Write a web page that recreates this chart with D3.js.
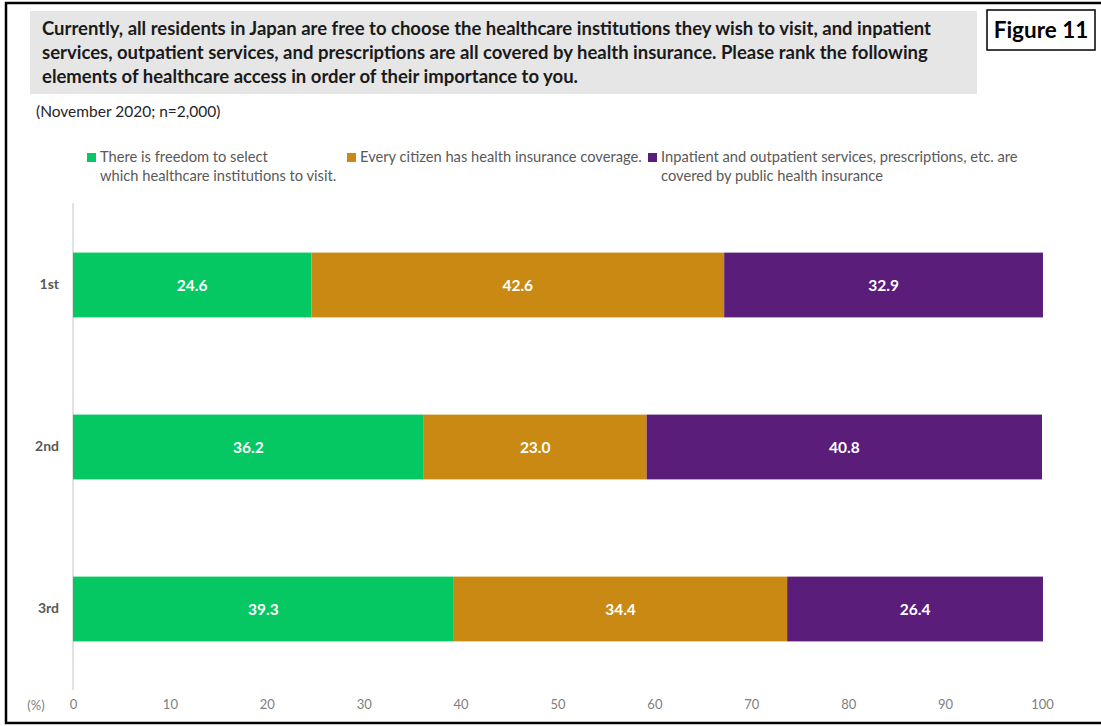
<!DOCTYPE html>
<html>
<head>
<meta charset="utf-8">
<script src="https://cdn.jsdelivr.net/npm/d3@7"></script>
<style>
  body { margin: 0; background: #fff; }
  svg { display: block; font-family: Lato, "Open Sans", sans-serif; }
</style>
</head>
<body>
<script>
// data
const categories = ["1st", "2nd", "3rd"];
const seriesNames = [
  ["There is freedom to select", "which healthcare institutions to visit."],
  ["Every citizen has health insurance coverage."],
  ["Inpatient and outpatient services, prescriptions, etc. are", "covered by public health insurance"]
];
const freedom = [24.6, 36.2, 39.3];
const coverage = [42.6, 23.0, 34.4];
const publicInsurance = [32.9, 40.8, 26.4];
const colors = ["#05c862", "#c98912", "#5a1d7a"];
const xTicks = [0, 10, 20, 30, 40, 50, 60, 70, 80, 90, 100];

const titleLines = [
  "Currently, all residents in Japan are free to choose the healthcare institutions they wish to visit, and inpatient",
  "services, outpatient services, and prescriptions are all covered by health insurance. Please rank the following",
  "elements of healthcare access in order of their importance to you."
];

const width = 1101, height = 726;

const svg = d3.select("body").append("svg")
  .attr("width", width)
  .attr("height", height);

// outer frame
svg.append("rect")
  .attr("x", 6).attr("y", 3)
  .attr("width", width + 10).attr("height", 720)
  .attr("fill", "none")
  .attr("stroke", "#000")
  .attr("stroke-width", 2.5);

// title box
svg.append("rect")
  .attr("x", 30).attr("y", 11)
  .attr("width", 947).attr("height", 83)
  .attr("fill", "#e6e6e6");

svg.selectAll("text.title")
  .data(titleLines)
  .join("text")
  .attr("class", "title")
  .attr("x", 42)
  .attr("y", (d, i) => 35 + i * 24)
  .attr("font-size", 18.5)
  .attr("font-weight", "bold")
  .attr("fill", "#1a1a1a")
  .text(d => d);

// figure label
svg.append("rect")
  .attr("x", 987).attr("y", 10)
  .attr("width", 108).attr("height", 40)
  .attr("fill", "#fff")
  .attr("stroke", "#000")
  .attr("stroke-width", 1.5);
svg.append("text")
  .attr("x", 1041).attr("y", 38)
  .attr("text-anchor", "middle")
  .attr("font-size", 22.5)
  .attr("font-weight", "bold")
  .attr("fill", "#000")
  .text("Figure 11");

svg.append("text")
  .attr("x", 36).attr("y", 117)
  .attr("font-size", 15.5)
  .attr("fill", "#262626")
  .text("(November 2020; n=2,000)");

// legend
const legendX = [87, 347, 648];
const legend = svg.selectAll("g.legend")
  .data(seriesNames)
  .join("g")
  .attr("class", "legend")
  .attr("transform", (d, i) => `translate(${legendX[i]},0)`);
legend.append("rect")
  .attr("x", 0).attr("y", 153)
  .attr("width", 9).attr("height", 9)
  .attr("fill", (d, i) => colors[i]);
legend.each(function (lines) {
  d3.select(this).selectAll("text")
    .data(lines)
    .join("text")
    .attr("x", 13)
    .attr("y", (d, j) => 162 + j * 19)
    .attr("font-size", 14.7)
    .attr("fill", "#595959")
    .text(d => d);
});

// scales
const x = d3.scaleLinear().domain([0, 100]).range([73, 1042]);
const y = d3.scaleBand().domain(categories).range([204, 690])
  .paddingInner(0.6).paddingOuter(0.3);

const rows = categories.map((c, i) => ({
  cat: c, s0: freedom[i], s1: coverage[i], s2: publicInsurance[i]
}));
const stack = d3.stack().keys(["s0", "s1", "s2"]);
const stacked = stack(rows);

// y axis line
svg.append("line")
  .attr("x1", x(0)).attr("x2", x(0))
  .attr("y1", 203).attr("y2", 690)
  .attr("stroke", "#d9d9d9")
  .attr("stroke-width", 1.5);

const layers = svg.selectAll("g.layer")
  .data(stacked)
  .join("g")
  .attr("class", "layer")
  .attr("fill", (d, i) => colors[i]);

layers.selectAll("rect")
  .data(d => d)
  .join("rect")
  .attr("x", d => x(d[0]))
  .attr("y", d => y(d.data.cat))
  .attr("width", d => x(d[1]) - x(d[0]))
  .attr("height", y.bandwidth());

layers.selectAll("text")
  .data(d => d.map(v => ({ v, key: d.key })))
  .join("text")
  .attr("x", d => (x(d.v[0]) + x(d.v[1])) / 2)
  .attr("y", d => y(d.v.data.cat) + y.bandwidth() / 2 + 5.5)
  .attr("text-anchor", "middle")
  .attr("font-size", 15.5)
  .attr("font-weight", "bold")
  .attr("fill", "#fff")
  .text(d => d.v.data[d.key].toFixed(1));

// category labels
svg.append("g")
  .attr("transform", `translate(${x(0) - 14},0)`)
  .call(d3.axisLeft(y).tickSize(0).tickPadding(0))
  .call(g => g.select(".domain").remove())
  .call(g => g.selectAll("text")
    .attr("font-family", "Lato, sans-serif")
    .attr("font-size", 14)
    .attr("font-weight", "bold")
    .attr("fill", "#595959"));

// x axis labels
svg.append("g")
  .attr("transform", "translate(0,700)")
  .call(d3.axisBottom(x).tickValues(xTicks).tickSize(0).tickPadding(0))
  .call(g => g.select(".domain").remove())
  .call(g => g.selectAll("text")
    .attr("dy", "0.71em")
    .attr("font-family", "Lato, sans-serif")
    .attr("font-size", 13)
    .attr("fill", "#808080"));

svg.append("text")
  .attr("x", 36).attr("y", 709.5)
  .attr("text-anchor", "middle")
  .attr("font-size", 13)
  .attr("fill", "#808080")
  .text("(%)");
</script>
</body>
</html>
